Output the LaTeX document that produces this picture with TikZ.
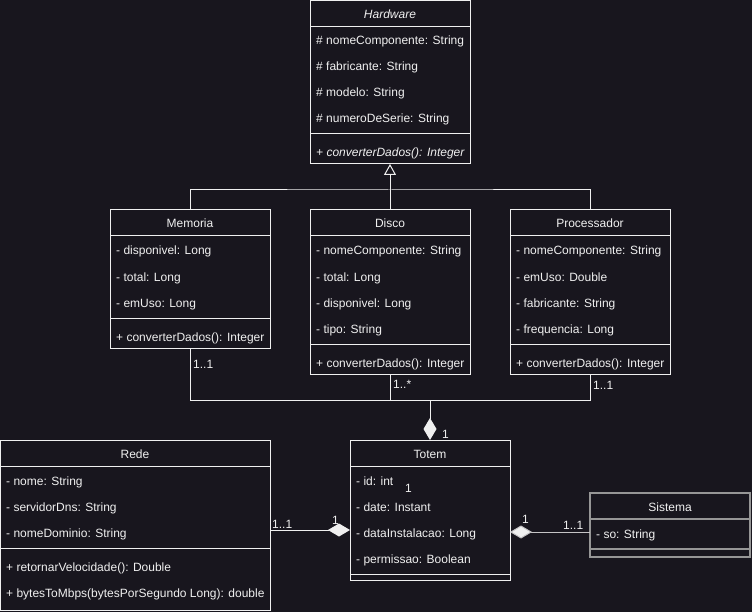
\documentclass[tikz,border=0pt]{standalone}
\usepackage{fontspec}
\setmainfont{Liberation Sans}
\usetikzlibrary{arrows.meta}
\definecolor{bgc}{RGB}{24,22,30}
\definecolor{ink}{RGB}{240,240,240}
\definecolor{dim}{RGB}{150,150,150}
\tikzset{
  umlbox/.style={draw=ink, line width=1pt, fill=bgc, inner sep=0pt, outer sep=0pt},
  dimbox/.style={draw=dim, line width=1.6pt, fill=bgc, inner sep=0pt, outer sep=0pt},
  txt/.style={text=ink, inner sep=0pt, yshift=-1pt, font=\fontsize{12}{14}\selectfont},
  attr/.style={txt, anchor=base west},
  ttl/.style={txt, anchor=base},
  lbl/.style={txt, anchor=base west},
  wire/.style={draw=ink, line width=1pt},
  gen/.style={wire, -{Triangle[open, length=11pt, width=12pt]}},
  comp/.style={wire, -{Diamond[length=22pt, width=13pt, fill=ink]}},
}
\newcommand{\sepline}[3][wire]{\draw[#1] (#2.west |- 0,#3) -- (#2.east |- 0,#3);}
\begin{document}
\begin{tikzpicture}[x=1pt, y=-1pt]
\fill[bgc] (0,0) rectangle (752,612);
\useasboundingbox (0,0) rectangle (752,612);

% ---- Hardware (abstract) ----
\node[umlbox, minimum width=160pt, minimum height=163pt] (hw) at (390,82.5) {};
\node[ttl] (hwT) at (390,18) {\itshape Hardware};
\sepline{hw}{27}
\node[attr] (hwA1) at (316,44) {\# nomeComponente: String};
\node[attr] (hwA2) at (316,70) {\# fabricante: String};
\node[attr] (hwA3) at (316,96) {\# modelo: String};
\node[attr] (hwA4) at (316,122) {\# numeroDeSerie: String};
\sepline{hw}{134}
\node[attr] (hwM1) at (316,156) {\itshape + converterDados(): Integer};

% ---- Memoria ----
\node[umlbox, minimum width=160pt, minimum height=138pt] (mem) at (190,279) {};
\node[ttl] (memT) at (190,227) {Memoria};
\sepline{mem}{236}
\node[attr] (memA1) at (116,254) {- disponivel: Long};
\node[attr] (memA2) at (116,280) {- total: Long};
\node[attr] (memA3) at (116,306) {- emUso: Long};
\sepline{mem}{318}
\node[attr] (memM1) at (116,340) {+ converterDados(): Integer};

% ---- Disco ----
\node[umlbox, minimum width=160pt, minimum height=164pt] (dis) at (390,292) {};
\node[ttl] (disT) at (390,227) {Disco};
\sepline{dis}{236}
\node[attr] (disA1) at (316,254) {- nomeComponente: String};
\node[attr] (disA2) at (316,280) {- total: Long};
\node[attr] (disA3) at (316,306) {- disponivel: Long};
\node[attr] (disA4) at (316,332) {- tipo: String};
\sepline{dis}{344}
\node[attr] (disM1) at (316,366) {+ converterDados(): Integer};

% ---- Processador ----
\node[umlbox, minimum width=160pt, minimum height=164pt] (pro) at (590,292) {};
\node[ttl] (proT) at (590,227) {Processador};
\sepline{pro}{236}
\node[attr] (proA1) at (516,254) {- nomeComponente: String};
\node[attr] (proA2) at (516,280) {- emUso: Double};
\node[attr] (proA3) at (516,306) {- fabricante: String};
\node[attr] (proA4) at (516,332) {- frequencia: Long};
\sepline{pro}{344}
\node[attr] (proM1) at (516,366) {+ converterDados(): Integer};

% ---- Totem ----
\node[umlbox, minimum width=160pt, minimum height=140pt] (tot) at (430,510) {};
\node[ttl] (totT) at (430,457) {Totem};
\sepline{tot}{466}
\node[attr] (totA1) at (356,484) {- id: int};
\node[attr] (totA2) at (356,510) {- date: Instant};
\node[attr] (totA3) at (356,536) {- dataInstalacao: Long};
\node[attr] (totA4) at (356,562) {- permissao: Boolean};
\sepline{tot}{574}

% ---- Rede ----
\node[umlbox, minimum width=269.5pt, minimum height=170pt] (red) at (135.25,525) {};
\node[ttl] (redT) at (135,457) {Rede};
\sepline{red}{466}
\node[attr] (redA1) at (6,484) {- nome: String};
\node[attr] (redA2) at (6,510) {- servidorDns: String};
\node[attr] (redA3) at (6,536) {- nomeDominio: String};
\sepline{red}{548}
\node[attr] (redM1) at (6,570) {+ retornarVelocidade(): Double};
\node[attr] (redM2) at (6,596) {+ bytesToMbps(bytesPorSegundo Long): double};

% ---- Sistema ----
\node[dimbox, minimum width=160pt, minimum height=64pt] (sis) at (670,525) {};
\node[ttl] (sisT) at (670,510) {Sistema};
\sepline[draw=dim, line width=1.6pt]{sis}{519}
\node[attr] (sisA1) at (596,537) {- so: String};
\sepline[draw=dim, line width=1.6pt]{sis}{549}

% ---- generalisation to Hardware ----
\coordinate (genJ) at (390,190);
\draw[gen] (dis.north) -- (hw.south);
\draw[wire] (mem.north) |- (genJ) -| (pro.north);

% ---- composition of the components into Totem ----
\coordinate (busL) at (190,400);
\coordinate (busR) at (590,400);
\coordinate (busD) at (390,400);
\coordinate (busT) at (430,400);
\draw[wire] (mem.south) -- (busL) -- (busR) -- (pro.south);
\draw[wire] (dis.south) -- (busD);
\draw[comp] (busT) -- (tot.north);
\node[lbl] (mulMem) at (193,367) {1..1};
\node[lbl] (mulDis) at (393,387) {1..*};
\node[lbl] (mulPro) at (593,388) {1..1};
\node[lbl] (mulTotC) at (442,437) {1};
\node[lbl] (mulTotI) at (405,491) {1};

% ---- Rede into Totem ----
\coordinate (redE) at (270,530);
\coordinate (totW) at (350,530);
\draw[comp] (redE) -- (totW);
\node[lbl] (mulRed) at (272,527) {1..1};
\node[lbl] (mulTotR) at (332,523) {1};

% ---- Sistema into Totem ----
\coordinate (sisW) at (590,532);
\coordinate (totE) at (510,532);
\draw[comp, draw=ink!80!bgc] (sisW) -- (totE);
\node[lbl] (mulTotS) at (522,522) {1};
\node[lbl] (mulSis) at (563,528) {1..1};
\end{tikzpicture}
\end{document}
